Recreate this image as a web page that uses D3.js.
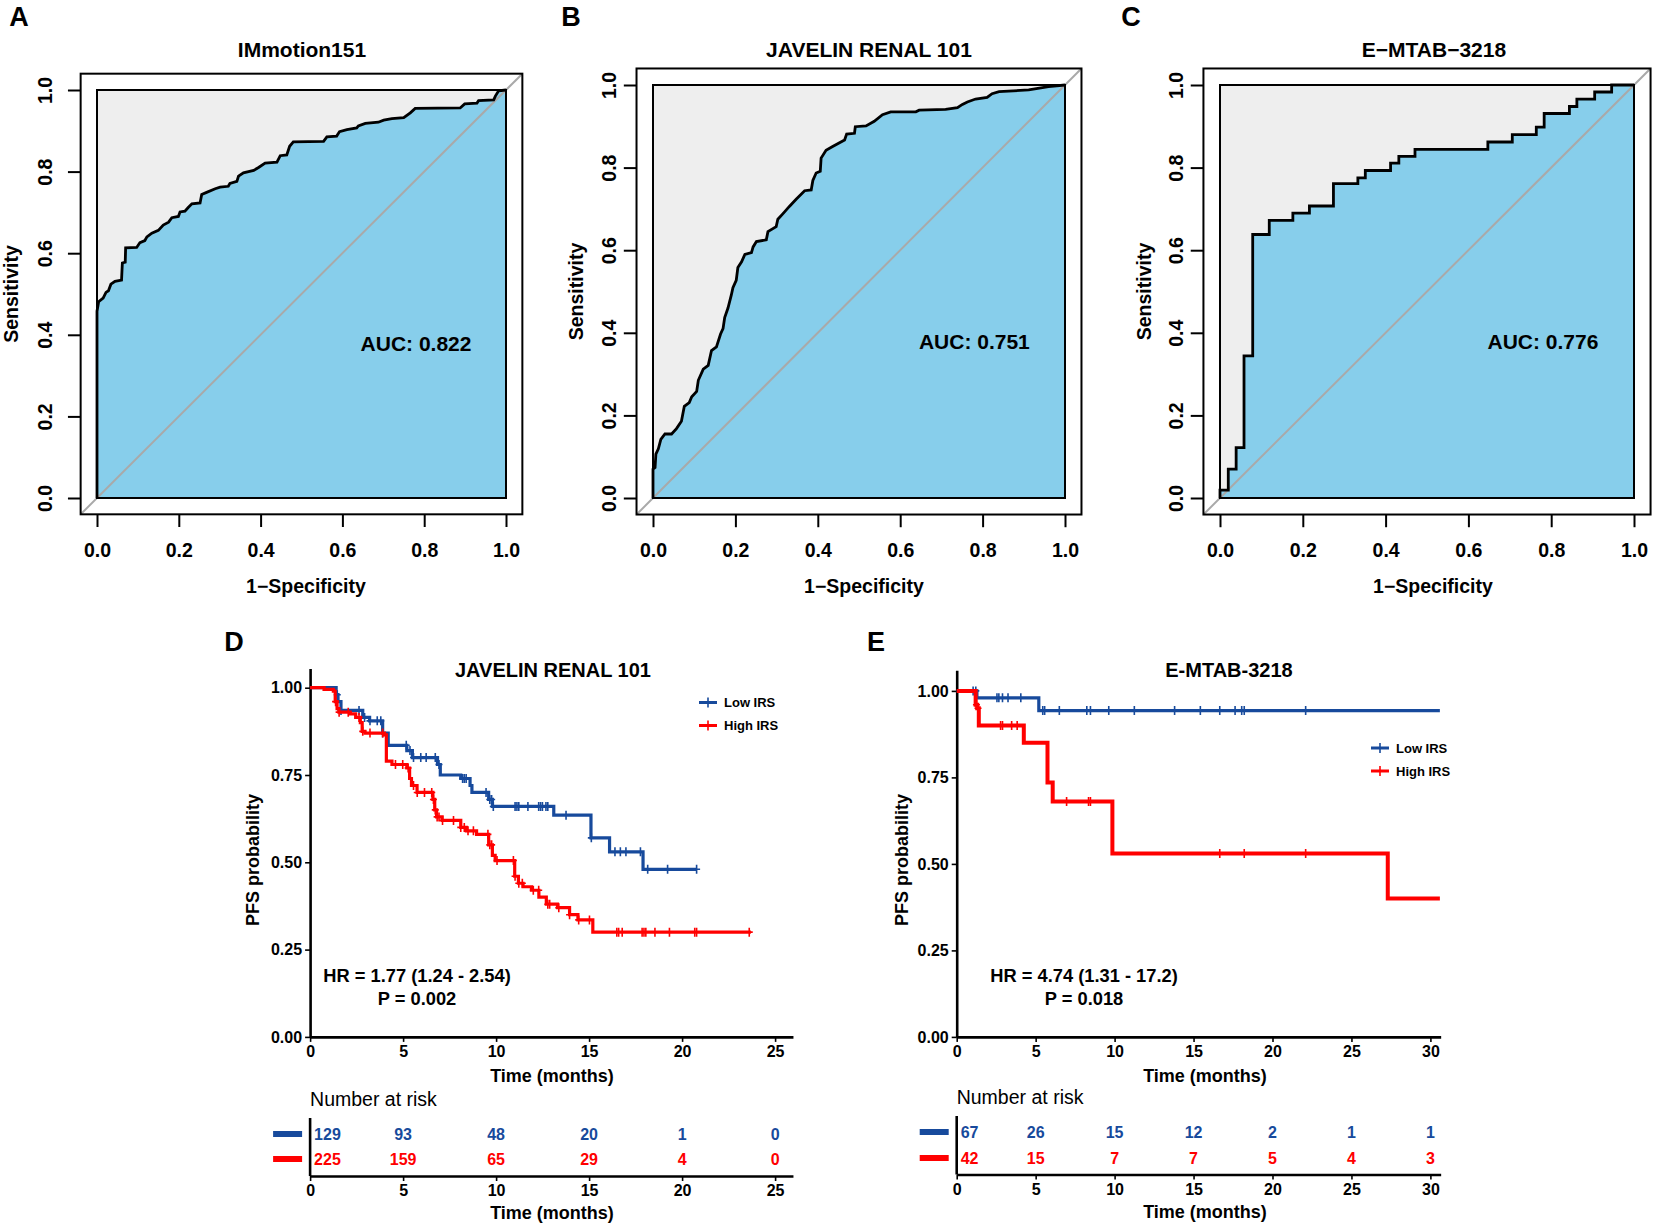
<!DOCTYPE html>
<html>
<head>
<meta charset="utf-8">
<script src="https://cdn.jsdelivr.net/npm/d3@7"></script>
<style>
  html, body { margin: 0; padding: 0; background: #fff; }
  svg { display: block; font-family: "Liberation Sans", Arial, sans-serif; }
</style>
</head>
<body>
<script>
// ---- ROC data (1-specificity, sensitivity) ----
const rocTicks = [0, 0.2, 0.4, 0.6, 0.8, 1.0];
const rocTitles = ["IMmotion151", "JAVELIN RENAL 101", "E\u2212MTAB\u22123218"];
const rocAuc = ["0.822", "0.751", "0.776"];
const rocLetters = ["A", "B", "C"];

const rocIMmotion = [
  [0,0],[0,0.458],[0.004,0.481],[0.015,0.490],[0.022,0.504],[0.028,0.508],[0.034,0.524],
  [0.044,0.531],[0.060,0.534],[0.062,0.576],[0.069,0.578],[0.070,0.613],[0.097,0.614],
  [0.105,0.626],[0.117,0.631],[0.122,0.640],[0.134,0.649],[0.150,0.656],[0.162,0.669],
  [0.175,0.676],[0.183,0.687],[0.199,0.690],[0.203,0.701],[0.215,0.703],[0.223,0.712],
  [0.232,0.721],[0.252,0.723],[0.256,0.744],[0.268,0.749],[0.289,0.758],[0.301,0.762],
  [0.321,0.764],[0.325,0.771],[0.342,0.776],[0.346,0.789],[0.358,0.797],[0.383,0.803],
  [0.395,0.810],[0.411,0.821],[0.440,0.823],[0.448,0.839],[0.464,0.841],[0.471,0.862],
  [0.480,0.873],[0.554,0.874],[0.562,0.885],[0.586,0.887],[0.593,0.898],[0.611,0.903],
  [0.635,0.907],[0.639,0.912],[0.656,0.918],[0.688,0.921],[0.701,0.926],[0.721,0.930],
  [0.750,0.932],[0.766,0.944],[0.778,0.955],[0.888,0.956],[0.899,0.966],[0.929,0.968],
  [0.933,0.974],[0.970,0.976],[0.974,0.985],[0.982,0.998],[1,1]
];
const rocJavelin = [
  [0,0],[0,0.070],[0.005,0.074],[0.007,0.106],[0.013,0.119],[0.019,0.142],[0.029,0.155],
  [0.045,0.155],[0.057,0.168],[0.069,0.186],[0.076,0.222],[0.088,0.231],[0.094,0.245],
  [0.106,0.258],[0.110,0.285],[0.122,0.312],[0.134,0.321],[0.142,0.357],[0.154,0.366],
  [0.164,0.397],[0.170,0.410],[0.174,0.437],[0.182,0.460],[0.190,0.491],[0.194,0.509],
  [0.202,0.527],[0.206,0.558],[0.215,0.572],[0.223,0.590],[0.239,0.594],[0.243,0.608],
  [0.251,0.621],[0.275,0.625],[0.279,0.645],[0.299,0.657],[0.303,0.675],[0.315,0.688],
  [0.331,0.706],[0.348,0.724],[0.368,0.744],[0.384,0.746],[0.388,0.769],[0.396,0.787],
  [0.406,0.791],[0.408,0.823],[0.420,0.842],[0.436,0.851],[0.465,0.867],[0.470,0.881],
  [0.489,0.883],[0.491,0.899],[0.517,0.901],[0.537,0.912],[0.557,0.928],[0.577,0.935],
  [0.638,0.935],[0.646,0.939],[0.710,0.941],[0.739,0.945],[0.751,0.953],[0.763,0.959],
  [0.783,0.966],[0.811,0.970],[0.823,0.979],[0.840,0.984],[0.912,0.988],[0.960,0.996],[1,1]
];
// step curve: drawn with curveStepAfter
const rocEmtab = [
  [0,0],[0,0.019],[0.020,0.070],[0.039,0.122],[0.058,0.344],[0.079,0.638],[0.119,0.672],
  [0.176,0.690],[0.216,0.707],[0.274,0.761],[0.333,0.775],[0.351,0.793],[0.412,0.811],
  [0.432,0.827],[0.471,0.844],[0.647,0.862],[0.706,0.880],[0.764,0.898],[0.783,0.931],
  [0.844,0.948],[0.862,0.966],[0.905,0.983],[0.946,1],[1,1]
];

// ---- Kaplan-Meier data: step times, survival after each step, censor times ----
const jrLowT  = [0, 1.4, 1.5, 1.66, 2.83, 3.2, 3.9, 4.2, 5.2, 5.5, 6.85, 7.0, 8.1, 8.6, 8.7, 9.6, 9.8, 13.1, 15.1, 16.1, 17.9, 20.8];
const jrLowS  = [1.00, 0.98, 0.96, 0.935, 0.915, 0.905, 0.87, 0.835, 0.82, 0.80, 0.78, 0.75, 0.74, 0.72, 0.70, 0.68, 0.66, 0.635, 0.57, 0.53, 0.48, 0.48];
const jrLowCens = [1.46, 1.66, 2.63, 2.93, 3.22, 3.61, 3.80, 3.90, 5.17, 5.37, 5.56, 5.95, 6.24, 6.73, 6.93, 8.2, 8.29, 8.39,
  9.46, 9.66, 9.76, 9.85, 11.02, 11.12, 11.22, 11.71, 12.29, 12.39, 12.49, 12.68, 12.78, 13.76, 15.12, 16.39, 16.68, 16.98,
  17.76, 18.15, 19.22, 20.78];
const jrHighT = [0, 0.75, 1.25, 1.35, 1.45, 1.55, 2.15, 2.45, 2.7, 2.8, 2.95, 4.0, 4.1, 4.4, 5.2, 5.35, 5.45, 5.75, 6.6, 6.7,
  6.8, 7.1, 8.1, 8.4, 8.95, 9.6, 9.8, 9.95, 11.0, 11.2, 11.45, 11.9, 12.3, 12.7, 13.3, 13.95, 14.4, 15.2, 23.7];
const jrHighS = [1.00, 0.995, 0.99, 0.96, 0.94, 0.93, 0.925, 0.915, 0.90, 0.875, 0.87, 0.865, 0.79, 0.78, 0.77, 0.74, 0.72, 0.70,
  0.68, 0.65, 0.63, 0.62, 0.60, 0.59, 0.58, 0.55, 0.52, 0.505, 0.46, 0.44, 0.43, 0.42, 0.40, 0.38, 0.37, 0.35, 0.335, 0.30, 0.30];
const jrHighCens = [1.37, 1.56, 2.05, 2.63, 2.83, 3.22, 3.9, 4.59, 4.98, 5.27, 5.56, 5.76, 6.15, 6.54, 6.63, 6.73, 6.83, 6.93,
  7.12, 7.71, 8.1, 8.29, 8.49, 8.78, 9.56, 9.66, 9.76, 10.05, 10.93, 11.02, 11.22, 11.41, 12.0, 12.29, 12.78, 12.88, 13.37,
  13.95, 14.44, 15.02, 16.49, 16.59, 16.78, 17.85, 17.95, 18.05, 18.54, 19.32, 20.68, 20.78, 23.61];

const emLowT = [0, 1.28, 5.2, 30.6];
const emLowS = [1.00, 0.98, 0.943, 0.943];
const emLowCens = [1.04, 1.21, 2.55, 2.67, 2.9, 3.25, 4.06, 5.45, 5.57, 6.5, 8.24, 8.47, 9.63, 11.25, 13.8, 15.43,
  16.66, 17.63, 18.05, 18.21, 22.1];
const emHighT = [0, 1.2, 1.3, 1.4, 4.25, 5.75, 6.08, 9.86, 27.3, 30.6];
const emHighS = [1.00, 0.96, 0.95, 0.90, 0.85, 0.735, 0.68, 0.53, 0.40, 0.40];
const emHighCens = [1.25, 1.35, 2.78, 2.9, 3.48, 3.83, 6.96, 8.35, 8.47, 16.66, 18.21, 22.1];

const kmYTicks = [0, 0.25, 0.5, 0.75, 1.0];
const jrTimes = [0, 5, 10, 15, 20, 25];
const jrRiskLow = [129, 93, 48, 20, 1, 0];
const jrRiskHigh = [225, 159, 65, 29, 4, 0];
const emTimes = [0, 5, 10, 15, 20, 25, 30];
const emRiskLow = [67, 26, 15, 12, 2, 1, 1];
const emRiskHigh = [42, 15, 7, 7, 5, 4, 3];

const BLUE = "#174a9c", RED = "#ff0000";

const svg = d3.select("body").append("svg")
  .attr("width", 1654).attr("height", 1228);
svg.append("rect").attr("width", 1654).attr("height", 1228).attr("fill", "#fff");

// ---------------- ROC panels ----------------
const rocPanels = [
  {data: rocIMmotion, step: false, left: 97, right: 506, top: 90, bottom: 498, tickLab: 35, axLab: 69, titleX: 302, xlabX: 306, letterX: 19},
  {data: rocJavelin, step: false, left: 653, right: 1065, top: 85, bottom: 498, tickLab: 27, axLab: 60, titleX: 869, xlabX: 864, letterX: 571},
  {data: rocEmtab, step: true, left: 1220, right: 1634, top: 85, bottom: 498, tickLab: 27.5, axLab: 59, titleX: 1434, xlabX: 1433, letterX: 1131}
];

function drawRoc(c, i) {
  const g = svg.append("g");
  const xs = d3.scaleLinear().domain([0, 1]).range([c.left, c.right]);
  const ys = d3.scaleLinear().domain([0, 1]).range([c.bottom, c.top]);
  const curve = c.step ? d3.curveStepAfter : d3.curveLinear;

  // max auc square
  g.append("rect")
    .attr("x", xs(0)).attr("y", ys(1))
    .attr("width", xs(1) - xs(0)).attr("height", ys(0) - ys(1))
    .attr("fill", "#eeeeee");

  const area = d3.area().x(d => xs(d[0])).y0(ys(0)).y1(d => ys(d[1])).curve(curve);
  g.append("path").datum(c.data).attr("d", area).attr("fill", "#87ceeb");

  // identity line over whole plot region
  g.append("line")
    .attr("x1", xs(-0.04)).attr("y1", ys(-0.04))
    .attr("x2", xs(1.04)).attr("y2", ys(1.04))
    .attr("stroke", "#a9a9a9").attr("stroke-width", 2);

  g.append("rect")
    .attr("x", xs(0)).attr("y", ys(1))
    .attr("width", xs(1) - xs(0)).attr("height", ys(0) - ys(1))
    .attr("fill", "none").attr("stroke", "#000").attr("stroke-width", 2);

  const line = d3.line().x(d => xs(d[0])).y(d => ys(d[1])).curve(curve);
  g.append("path").datum(c.data).attr("d", line)
    .attr("fill", "none").attr("stroke", "#000").attr("stroke-width", 2.8);

  // outer box
  g.append("rect")
    .attr("x", xs(-0.04)).attr("y", ys(1.04))
    .attr("width", xs(1.04) - xs(-0.04)).attr("height", ys(-0.04) - ys(1.04))
    .attr("fill", "none").attr("stroke", "#000").attr("stroke-width", 2);

  const yAx = g.append("g").attr("transform", `translate(${xs(-0.04)},0)`)
    .call(d3.axisLeft(ys).tickValues(rocTicks).tickSize(12.7).tickFormat(d3.format(".1f")));
  const xAx = g.append("g").attr("transform", `translate(0,${ys(-0.04)})`)
    .call(d3.axisBottom(xs).tickValues(rocTicks).tickSize(12.7).tickPadding(16).tickFormat(d3.format(".1f")));
  [yAx, xAx].forEach(a => {
    a.select(".domain").remove();
    a.attr("font-family", null).attr("font-size", 19.5).attr("font-weight", "bold");
    a.selectAll(".tick line").attr("stroke", "#000").attr("stroke-width", 2);
    a.selectAll(".tick text").attr("fill", "#000");
  });
  yAx.selectAll(".tick text")
    .attr("x", null).attr("dy", "0.35em").attr("text-anchor", "middle")
    .attr("transform", `translate(${-c.tickLab},0) rotate(-90)`);

  g.append("text").attr("x", xs(0.78)).attr("y", ys(0.378)).attr("dy", "0.36em")
    .attr("text-anchor", "middle").attr("font-size", 21).attr("font-weight", "bold")
    .text("AUC: " + rocAuc[i]);

  g.append("text").attr("x", c.titleX).attr("y", 57)
    .attr("text-anchor", "middle").attr("font-size", 21).attr("font-weight", "bold")
    .text(rocTitles[i]);
  g.append("text").attr("x", c.xlabX).attr("y", 592.5)
    .attr("text-anchor", "middle").attr("font-size", 19.5).attr("font-weight", "bold")
    .text("1\u2212Specificity");
  g.append("text")
    .attr("transform", `translate(${xs(-0.04) - c.axLab},${(ys(0) + ys(1)) / 2}) rotate(-90)`)
    .attr("dy", "0.35em").attr("text-anchor", "middle")
    .attr("font-size", 19.5).attr("font-weight", "bold")
    .text("Sensitivity");
  g.append("text").attr("x", c.letterX).attr("y", 26)
    .attr("text-anchor", "middle").attr("font-size", 27).attr("font-weight", "bold")
    .text(rocLetters[i]);
}
rocPanels.forEach(drawRoc);

// ---------------- KM panels ----------------
const kmPanels = [
  {letter: "D", title: "JAVELIN RENAL 101", left: 310.1, perMonth: 18.6, axisMax: 25.96, bottom: 1036.9, perUnit: 349.2,
   yTop: 1.055, titleX: 553, xlabX: 552, legX: 699, legY: 702.5, hrX: 417, letterX: 234, ylabX: 253,
   hr: "HR = 1.77 (1.24 - 2.54)", p: "P = 0.002", lwLow: 3.2, lwHigh: 3.2,
   low: [jrLowT, jrLowS, jrLowCens], high: [jrHighT, jrHighS, jrHighCens],
   times: jrTimes, riskLow: jrRiskLow, riskHigh: jrRiskHigh,
   riskTop: 1118, riskBottom: 1176, row1: 1134, row2: 1159, narY: 1099},
  {letter: "E", title: "E-MTAB-3218", left: 956.7, perMonth: 15.79, axisMax: 30.65, bottom: 1036.9, perUnit: 346,
   yTop: 1.06, titleX: 1229, xlabX: 1205, legX: 1371, legY: 748, hrX: 1084, letterX: 876, ylabX: 902,
   hr: "HR = 4.74 (1.31 - 17.2)", p: "P = 0.018", lwLow: 3.2, lwHigh: 4,
   low: [emLowT, emLowS, emLowCens], high: [emHighT, emHighS, emHighCens],
   times: emTimes, riskLow: emRiskLow, riskHigh: emRiskHigh,
   riskTop: 1116, riskBottom: 1174.5, row1: 1132, row2: 1158, narY: 1097}
];

function plus(sel, x, y, color, h, w) {
  sel.append("path")
    .attr("d", `M${x - w},${y}H${x + w}M${x},${y - h}V${y + h}`)
    .attr("stroke", color).attr("stroke-width", 1.6).attr("fill", "none");
}

function styleAxis(a, size) {
  a.attr("font-family", null).attr("font-size", size).attr("font-weight", "bold");
  a.select(".domain").attr("stroke", "#000").attr("stroke-width", 2.6);
  a.selectAll(".tick line").attr("stroke", "#000").attr("stroke-width", 1.6);
  a.selectAll(".tick text").attr("fill", "#000");
}

function drawKm(c) {
  const g = svg.append("g");
  const xs = d3.scaleLinear().domain([0, c.axisMax]).range([c.left, c.left + c.axisMax * c.perMonth]);
  const ys = d3.scaleLinear().domain([0, c.yTop]).range([c.bottom, c.bottom - c.yTop * c.perUnit]);

  const xAx = g.append("g").attr("transform", `translate(0,${c.bottom})`)
    .call(d3.axisBottom(xs).tickValues(c.times).tickSize(5).tickPadding(4).tickSizeOuter(0));
  const yAx = g.append("g").attr("transform", `translate(${c.left},0)`)
    .call(d3.axisLeft(ys).tickValues(kmYTicks).tickSize(5).tickPadding(3).tickSizeOuter(0).tickFormat(d3.format(".2f")));
  styleAxis(xAx, 16);
  styleAxis(yAx, 16);

  const line = d3.line().x(d => xs(d[0])).y(d => ys(d[1])).curve(d3.curveStepAfter);
  [[c.low, BLUE, c.lwLow], [c.high, RED, c.lwHigh]].forEach(([s, color, lw]) => {
    const T = s[0], S = s[1];
    g.append("path").datum(T.map((t, k) => [t, S[k]])).attr("d", line)
      .attr("fill", "none").attr("stroke", color).attr("stroke-width", lw);
    s[2].forEach(t => {
      const v = S[Math.max(0, d3.bisectRight(T, t) - 1)];
      plus(g, xs(t), ys(v), color, 4.5, 3.5);
    });
  });

  // legend
  [["Low IRS", BLUE], ["High IRS", RED]].forEach(([lab, color], k) => {
    const y = c.legY + k * 23;
    g.append("line").attr("x1", c.legX).attr("x2", c.legX + 18).attr("y1", y).attr("y2", y)
      .attr("stroke", color).attr("stroke-width", 3);
    plus(g, c.legX + 9, y, color, 5, 4);
    g.append("text").attr("x", c.legX + 25).attr("y", y).attr("dy", "0.36em")
      .attr("font-size", 13).attr("font-weight", "bold").text(lab);
  });

  g.append("text").attr("x", c.hrX).attr("y", 975.7).attr("dy", "0.36em")
    .attr("text-anchor", "middle").attr("font-size", 18.3).attr("font-weight", "bold").text(c.hr);
  g.append("text").attr("x", c.hrX).attr("y", 998.9).attr("dy", "0.36em")
    .attr("text-anchor", "middle").attr("font-size", 18.3).attr("font-weight", "bold").text(c.p);

  g.append("text").attr("x", c.titleX).attr("y", 670).attr("dy", "0.36em")
    .attr("text-anchor", "middle").attr("font-size", 20).attr("font-weight", "bold").text(c.title);
  g.append("text").attr("x", c.letterX).attr("y", 641).attr("dy", "0.36em")
    .attr("text-anchor", "middle").attr("font-size", 27).attr("font-weight", "bold").text(c.letter);
  g.append("text").attr("x", c.xlabX).attr("y", 1076).attr("dy", "0.36em")
    .attr("text-anchor", "middle").attr("font-size", 18).attr("font-weight", "bold").text("Time (months)");
  g.append("text")
    .attr("transform", `translate(${c.ylabX},860) rotate(-90)`)
    .attr("dy", "0.36em").attr("text-anchor", "middle")
    .attr("font-size", 18).attr("font-weight", "bold").text("PFS probability");

  // risk table
  g.append("text").attr("x", c.left).attr("y", c.narY).attr("dy", "0.36em")
    .attr("font-size", 19.5).text("Number at risk");
  const rAx = g.append("g").attr("transform", `translate(0,${c.riskBottom})`)
    .call(d3.axisBottom(xs).tickValues(c.times).tickSize(5).tickPadding(4).tickSizeOuter(0));
  styleAxis(rAx, 16);
  g.append("line").attr("x1", c.left).attr("x2", c.left).attr("y1", c.riskTop).attr("y2", c.riskBottom)
    .attr("stroke", "#000").attr("stroke-width", 2.6);
  [[c.riskLow, BLUE, c.row1], [c.riskHigh, RED, c.row2]].forEach(([vals, color, y]) => {
    g.append("line").attr("x1", c.left - 37).attr("x2", c.left - 8).attr("y1", y).attr("y2", y)
      .attr("stroke", color).attr("stroke-width", 6);
    g.selectAll(null).data(vals).join("text")
      .attr("x", (d, k) => k === 0 ? c.left + 4 : xs(c.times[k]))
      .attr("y", y).attr("dy", "0.36em")
      .attr("text-anchor", (d, k) => k === 0 ? "start" : "middle")
      .attr("font-size", 16).attr("font-weight", "bold").attr("fill", color)
      .text(d => d);
  });
  g.append("text").attr("x", c.xlabX).attr("y", c.riskBottom + 37).attr("dy", "0.36em")
    .attr("text-anchor", "middle").attr("font-size", 18).attr("font-weight", "bold").text("Time (months)");
}
kmPanels.forEach(drawKm);
</script>
</body>
</html>
